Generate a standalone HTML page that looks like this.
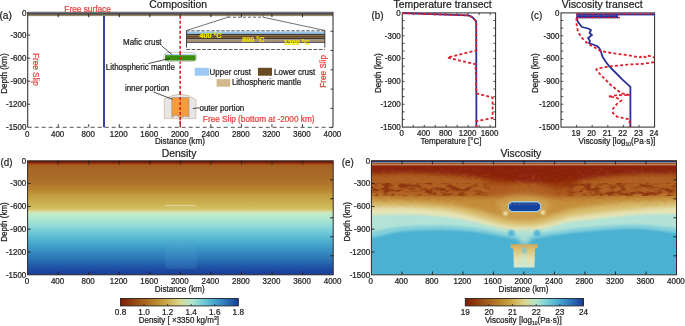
<!DOCTYPE html>
<html><head><meta charset="utf-8"><style>
html,body{margin:0;padding:0;background:#fff;}
svg{display:block;will-change:transform;}
text{font-family:"Liberation Sans", sans-serif;}
</style></head><body>
<svg width="685" height="326" viewBox="0 0 685 326">
<rect width="685" height="326" fill="#fff"/>
<defs>
<linearGradient id="roma" x1="0" y1="0" x2="1" y2="0">
 <stop offset="0" stop-color="#7e1d02"/>
 <stop offset="0.1" stop-color="#944010"/>
 <stop offset="0.2" stop-color="#a8621e"/>
 <stop offset="0.3" stop-color="#ba862e"/>
 <stop offset="0.4" stop-color="#ccac4c"/>
 <stop offset="0.5" stop-color="#dcd68e"/>
 <stop offset="0.6" stop-color="#b2e6cc"/>
 <stop offset="0.7" stop-color="#72cdd8"/>
 <stop offset="0.8" stop-color="#46a4cf"/>
 <stop offset="0.9" stop-color="#2a72b6"/>
 <stop offset="1" stop-color="#173c98"/>
</linearGradient>
<linearGradient id="dens" x1="0" y1="160.8" x2="0" y2="274.8" gradientUnits="userSpaceOnUse">
 <stop offset="0.0000" stop-color="#6e1604"/>
 <stop offset="0.0158" stop-color="#7a2006"/>
 <stop offset="0.0263" stop-color="#a04412"/>
 <stop offset="0.0386" stop-color="#a66020"/>
 <stop offset="0.0544" stop-color="#a66424"/>
 <stop offset="0.1684" stop-color="#ac6e28"/>
 <stop offset="0.2561" stop-color="#b8852f"/>
 <stop offset="0.3000" stop-color="#c29c3e"/>
 <stop offset="0.3877" stop-color="#ccb454"/>
 <stop offset="0.4272" stop-color="#d4c468"/>
 <stop offset="0.4430" stop-color="#d8dca0"/>
 <stop offset="0.4605" stop-color="#c6ecc4"/>
 <stop offset="0.5018" stop-color="#b2e8d0"/>
 <stop offset="0.5632" stop-color="#94dcd8"/>
 <stop offset="0.6246" stop-color="#70cad8"/>
 <stop offset="0.6947" stop-color="#52b2d0"/>
 <stop offset="0.7649" stop-color="#3c98c6"/>
 <stop offset="0.8526" stop-color="#2c78b8"/>
 <stop offset="0.9404" stop-color="#1e50a4"/>
 <stop offset="1.0000" stop-color="#1a3a98"/>
</linearGradient>
<linearGradient id="visc" x1="0" y1="160.8" x2="0" y2="274.8" gradientUnits="userSpaceOnUse">
 <stop offset="0" stop-color="#8a3008"/>
 <stop offset="0.2" stop-color="#8e3a0c"/>
 <stop offset="0.3" stop-color="#a45a1c"/>
 <stop offset="0.4" stop-color="#c08a36"/>
 <stop offset="0.47" stop-color="#d4b458"/>
 <stop offset="0.5" stop-color="#e0d490"/>
 <stop offset="0.56" stop-color="#d8e8c0"/>
 <stop offset="0.62" stop-color="#4cb2d2"/>
 <stop offset="1" stop-color="#4cb2d2"/>
</linearGradient>
</defs>
<rect x="27.7" y="11.8" width="305.30" height="0.8" fill="#443a38"/>
<rect x="27.7" y="12.6" width="305.30" height="1.5" fill="#48505c"/>
<rect x="27.7" y="14.1" width="305.30" height="1.3" fill="#5e5032"/>
<rect x="27.7" y="15.4" width="305.30" height="0.7" fill="#7a6a48"/>
<line x1="27.70" y1="12.00" x2="27.70" y2="127.30" stroke="#3e3636" stroke-width="1.1" />
<line x1="333.00" y1="12.00" x2="333.00" y2="127.30" stroke="#3e3636" stroke-width="1.1" />
<line x1="27.70" y1="127.30" x2="333.00" y2="127.30" stroke="#5a5050" stroke-width="1" stroke-dasharray="4,3"/>
<line x1="27.70" y1="35.06" x2="30.20" y2="35.06" stroke="#2a2626" stroke-width="0.9" />
<line x1="27.70" y1="58.12" x2="30.20" y2="58.12" stroke="#2a2626" stroke-width="0.9" />
<line x1="27.70" y1="81.18" x2="30.20" y2="81.18" stroke="#2a2626" stroke-width="0.9" />
<line x1="27.70" y1="104.24" x2="30.20" y2="104.24" stroke="#2a2626" stroke-width="0.9" />
<line x1="333.00" y1="31.27" x2="330.50" y2="31.27" stroke="#2a2626" stroke-width="0.9" />
<line x1="333.00" y1="50.54" x2="330.50" y2="50.54" stroke="#2a2626" stroke-width="0.9" />
<line x1="333.00" y1="69.81" x2="330.50" y2="69.81" stroke="#2a2626" stroke-width="0.9" />
<line x1="333.00" y1="89.08" x2="330.50" y2="89.08" stroke="#2a2626" stroke-width="0.9" />
<line x1="333.00" y1="108.35" x2="330.50" y2="108.35" stroke="#2a2626" stroke-width="0.9" />
<line x1="333.00" y1="127.62" x2="330.50" y2="127.62" stroke="#2a2626" stroke-width="0.9" />
<line x1="58.23" y1="14.00" x2="58.23" y2="17.20" stroke="#222" stroke-width="1.0" />
<line x1="58.23" y1="127.30" x2="58.23" y2="124.10" stroke="#444" stroke-width="1.0" />
<line x1="88.76" y1="14.00" x2="88.76" y2="17.20" stroke="#222" stroke-width="1.0" />
<line x1="88.76" y1="127.30" x2="88.76" y2="124.10" stroke="#444" stroke-width="1.0" />
<line x1="119.29" y1="14.00" x2="119.29" y2="17.20" stroke="#222" stroke-width="1.0" />
<line x1="119.29" y1="127.30" x2="119.29" y2="124.10" stroke="#444" stroke-width="1.0" />
<line x1="149.82" y1="14.00" x2="149.82" y2="17.20" stroke="#222" stroke-width="1.0" />
<line x1="149.82" y1="127.30" x2="149.82" y2="124.10" stroke="#444" stroke-width="1.0" />
<line x1="180.35" y1="14.00" x2="180.35" y2="17.20" stroke="#222" stroke-width="1.0" />
<line x1="180.35" y1="127.30" x2="180.35" y2="124.10" stroke="#444" stroke-width="1.0" />
<line x1="210.88" y1="14.00" x2="210.88" y2="17.20" stroke="#222" stroke-width="1.0" />
<line x1="210.88" y1="127.30" x2="210.88" y2="124.10" stroke="#444" stroke-width="1.0" />
<line x1="241.41" y1="14.00" x2="241.41" y2="17.20" stroke="#222" stroke-width="1.0" />
<line x1="241.41" y1="127.30" x2="241.41" y2="124.10" stroke="#444" stroke-width="1.0" />
<line x1="271.94" y1="14.00" x2="271.94" y2="17.20" stroke="#222" stroke-width="1.0" />
<line x1="271.94" y1="127.30" x2="271.94" y2="124.10" stroke="#444" stroke-width="1.0" />
<line x1="302.47" y1="14.00" x2="302.47" y2="17.20" stroke="#222" stroke-width="1.0" />
<line x1="302.47" y1="127.30" x2="302.47" y2="124.10" stroke="#444" stroke-width="1.0" />
<text transform="translate(26.40,37.86) scale(1,1.1)" font-size="8" text-anchor="end" fill="#222" stroke="#222" stroke-width="0.22" >-300</text>
<text transform="translate(26.40,60.92) scale(1,1.1)" font-size="8" text-anchor="end" fill="#222" stroke="#222" stroke-width="0.22" >-600</text>
<text transform="translate(26.40,83.98) scale(1,1.1)" font-size="8" text-anchor="end" fill="#222" stroke="#222" stroke-width="0.22" >-900</text>
<text transform="translate(26.40,107.04) scale(1,1.1)" font-size="8" text-anchor="end" fill="#222" stroke="#222" stroke-width="0.22" >-1200</text>
<text transform="translate(26.40,130.10) scale(1,1.1)" font-size="8" text-anchor="end" fill="#222" stroke="#222" stroke-width="0.22" >-1500</text>
<text transform="translate(26.40,16.10) scale(1,1.1)" font-size="8" text-anchor="end" fill="#222" stroke="#222" stroke-width="0.22" >0</text>
<text transform="translate(27.10,136.50) scale(1,1.1)" font-size="8" text-anchor="middle" fill="#222" stroke="#222" stroke-width="0.22" >0</text>
<text transform="translate(57.63,136.50) scale(1,1.1)" font-size="8" text-anchor="middle" fill="#222" stroke="#222" stroke-width="0.22" >400</text>
<text transform="translate(88.16,136.50) scale(1,1.1)" font-size="8" text-anchor="middle" fill="#222" stroke="#222" stroke-width="0.22" >800</text>
<text transform="translate(118.69,136.50) scale(1,1.1)" font-size="8" text-anchor="middle" fill="#222" stroke="#222" stroke-width="0.22" >1200</text>
<text transform="translate(149.22,136.50) scale(1,1.1)" font-size="8" text-anchor="middle" fill="#222" stroke="#222" stroke-width="0.22" >1600</text>
<text transform="translate(179.75,136.50) scale(1,1.1)" font-size="8" text-anchor="middle" fill="#222" stroke="#222" stroke-width="0.22" >2000</text>
<text transform="translate(210.28,136.50) scale(1,1.1)" font-size="8" text-anchor="middle" fill="#222" stroke="#222" stroke-width="0.22" >2400</text>
<text transform="translate(240.81,136.50) scale(1,1.1)" font-size="8" text-anchor="middle" fill="#222" stroke="#222" stroke-width="0.22" >2800</text>
<text transform="translate(271.34,136.50) scale(1,1.1)" font-size="8" text-anchor="middle" fill="#222" stroke="#222" stroke-width="0.22" >3200</text>
<text transform="translate(301.87,136.50) scale(1,1.1)" font-size="8" text-anchor="middle" fill="#222" stroke="#222" stroke-width="0.22" >3600</text>
<text transform="translate(332.40,136.50) scale(1,1.1)" font-size="8" text-anchor="middle" fill="#222" stroke="#222" stroke-width="0.22" >4000</text>
<text transform="translate(179.90,144.00) scale(1,1.1)" font-size="8.1" text-anchor="middle" fill="#222" stroke="#222" stroke-width="0.22" >Distance (km)</text>
<text transform="translate(178.20,8.10) scale(1,1.1)" font-size="10.4" text-anchor="middle" fill="#222" stroke="#222" stroke-width="0.22" >Composition</text>
<text transform="translate(-0.60,18.60) scale(1,1.1)" font-size="10.2" text-anchor="start" fill="#222" stroke="#222" stroke-width="0.22" >(a)</text>
<text transform="translate(6.8,73.6) rotate(-90) scale(1,1.1)" font-size="8.2" text-anchor="middle" fill="#222" stroke="#222" stroke-width="0.22">Depth (km)</text>
<text transform="translate(87.60,11.50) scale(1,1.1)" font-size="8.3" text-anchor="middle" fill="#e8403c" stroke="#e8403c" stroke-width="0.22" >Free surface</text>
<text transform="translate(33.0,69.3) rotate(90) scale(1,1.1)" font-size="8.2" text-anchor="middle" fill="#e8403c" stroke="#e8403c" stroke-width="0.22">Free Slip</text>
<text transform="translate(326.0,71.3) rotate(-90) scale(1,1.1)" font-size="8.2" text-anchor="middle" fill="#e8403c" stroke="#e8403c" stroke-width="0.22">Free Slip</text>
<text transform="translate(258.70,122.30) scale(1,1.1)" font-size="8.25" text-anchor="middle" fill="#e8403c" stroke="#e8403c" stroke-width="0.22" >Free Slip (bottom at -2000 km)</text>
<line x1="104.00" y1="16.00" x2="104.00" y2="127.30" stroke="#262b98" stroke-width="1.8" />
<line x1="180.20" y1="15.80" x2="180.20" y2="127.30" stroke="#dd1f2a" stroke-width="1.6" stroke-dasharray="3,2"/>
<rect x="163.6" y="52.4" width="33.2" height="9" rx="4.5" ry="4.5" fill="#fff" stroke="#b0b0b0" stroke-width="0.7"/>
<rect x="165" y="54.1" width="30.6" height="1.2" fill="#a8d0f0"/>
<rect x="165" y="55.2" width="30.6" height="5.4" fill="#3c8c0e"/>
<line x1="180.20" y1="52.00" x2="180.20" y2="62.00" stroke="#dd1f2a" stroke-width="1.6" stroke-dasharray="3,2"/>
<text transform="translate(142.30,45.20) scale(1,1.1)" font-size="8" text-anchor="middle" fill="#222" stroke="#222" stroke-width="0.22" >Mafic crust</text>
<text transform="translate(140.30,70.40) scale(1,1.1)" font-size="8" text-anchor="middle" fill="#222" stroke="#222" stroke-width="0.22" >Lithospheric mantle</text>
<line x1="161.30" y1="45.60" x2="172.00" y2="54.60" stroke="#222" stroke-width="0.8" />
<line x1="148.30" y1="63.60" x2="169.80" y2="58.40" stroke="#222" stroke-width="0.8" />
<rect x="186.3" y="31.6" width="138.7" height="2.2" fill="#96c8f0"/>
<rect x="186.3" y="33.8" width="138.7" height="1.6" fill="#3e3a38"/>
<rect x="186.3" y="35.4" width="138.7" height="2.4" fill="#6a4a1e"/>
<rect x="186.3" y="37.8" width="138.7" height="1.7" fill="#3e3a38"/>
<rect x="186.3" y="39.5" width="138.7" height="1.7" fill="#b09068"/>
<rect x="186.3" y="41.2" width="138.7" height="0.6" fill="#8a7a6a"/>
<rect x="186.3" y="41.8" width="138.7" height="1.0" fill="#3a3434"/>
<line x1="186.30" y1="30.80" x2="325.00" y2="30.80" stroke="#555" stroke-width="1" stroke-dasharray="3.4,1.6"/>
<line x1="186.30" y1="49.50" x2="325.00" y2="49.50" stroke="#555" stroke-width="1" stroke-dasharray="3.7,1.6"/>
<line x1="186.50" y1="30.50" x2="186.50" y2="47.50" stroke="#444" stroke-width="1.0" />
<line x1="324.80" y1="30.50" x2="324.80" y2="47.50" stroke="#444" stroke-width="1.0" />
<line x1="228.00" y1="17.20" x2="263.00" y2="17.20" stroke="#555" stroke-width="0.9" stroke-dasharray="3,2"/>
<line x1="228.00" y1="12.30" x2="228.00" y2="17.20" stroke="#555" stroke-width="0.8" />
<line x1="263.00" y1="12.30" x2="263.00" y2="17.20" stroke="#555" stroke-width="0.8" />
<line x1="228.00" y1="17.20" x2="186.50" y2="30.50" stroke="#333" stroke-width="0.7" />
<line x1="263.00" y1="17.20" x2="325.00" y2="30.50" stroke="#333" stroke-width="0.7" />
<text transform="translate(210.50,38.00) scale(1,1.1)" font-size="7.2" text-anchor="middle" fill="#f2e400" stroke="#f2e400" stroke-width="0.22" font-weight="bold">400 °C</text>
<text transform="translate(253.30,41.80) scale(1,1.1)" font-size="7.2" text-anchor="middle" fill="#f2e400" stroke="#f2e400" stroke-width="0.22" font-weight="bold">800 °C</text>
<text transform="translate(296.70,45.00) scale(1,1.1)" font-size="7.2" text-anchor="middle" fill="#f2e400" stroke="#f2e400" stroke-width="0.22" font-weight="bold">1200 °C</text>
<rect x="194.7" y="67.8" width="14.3" height="7.9" fill="#9ccaf4"/>
<text transform="translate(209.60,74.90) scale(1,1.1)" font-size="8" text-anchor="start" fill="#222" stroke="#222" stroke-width="0.22" >Upper crust</text>
<rect x="257.9" y="67.8" width="14.1" height="7.9" fill="#6a4a22"/>
<text transform="translate(274.00,74.90) scale(1,1.1)" font-size="8" text-anchor="start" fill="#222" stroke="#222" stroke-width="0.22" >Lower crust</text>
<rect x="216.6" y="79.1" width="13.6" height="7.6" fill="#d2b88c"/>
<text transform="translate(231.90,85.10) scale(1,1.1)" font-size="8" text-anchor="start" fill="#222" stroke="#222" stroke-width="0.22" >Lithospheric mantle</text>
<path d="M164.3,99.2 Q172,94.5 180.4,94.1 Q188.5,94.5 195.9,99.7 L195.9,118.6 L164.3,118.6 Z" fill="#e6e6e6" stroke="#c8a880" stroke-width="0.6"/>
<path d="M171.8,97.6 L189.0,97.6 L189.0,117.0 L185,116 L181,118 L176,115 L171.8,117.3 Z" fill="#f79c3c" stroke="#909090" stroke-width="0.6"/>
<line x1="180.20" y1="92.00" x2="180.20" y2="127.00" stroke="#dd1f2a" stroke-width="1.6" stroke-dasharray="3,2"/>
<text transform="translate(147.10,90.60) scale(1,1.1)" font-size="8" text-anchor="middle" fill="#222" stroke="#222" stroke-width="0.22" >inner portion</text>
<text transform="translate(221.90,110.60) scale(1,1.1)" font-size="8" text-anchor="middle" fill="#222" stroke="#222" stroke-width="0.22" >outer portion</text>
<line x1="153.30" y1="91.90" x2="172.50" y2="99.30" stroke="#222" stroke-width="0.8" />
<line x1="199.60" y1="107.70" x2="192.70" y2="108.60" stroke="#222" stroke-width="0.8" />
<line x1="402.30" y1="20.51" x2="404.60" y2="20.51" stroke="#2a2626" stroke-width="0.8" />
<line x1="495.60" y1="20.51" x2="493.30" y2="20.51" stroke="#2a2626" stroke-width="0.8" />
<line x1="402.30" y1="28.13" x2="404.60" y2="28.13" stroke="#2a2626" stroke-width="0.8" />
<line x1="495.60" y1="28.13" x2="493.30" y2="28.13" stroke="#2a2626" stroke-width="0.8" />
<line x1="402.30" y1="35.74" x2="404.60" y2="35.74" stroke="#2a2626" stroke-width="0.8" />
<line x1="495.60" y1="35.74" x2="493.30" y2="35.74" stroke="#2a2626" stroke-width="0.8" />
<line x1="402.30" y1="43.35" x2="404.60" y2="43.35" stroke="#2a2626" stroke-width="0.8" />
<line x1="495.60" y1="43.35" x2="493.30" y2="43.35" stroke="#2a2626" stroke-width="0.8" />
<line x1="402.30" y1="50.97" x2="404.60" y2="50.97" stroke="#2a2626" stroke-width="0.8" />
<line x1="495.60" y1="50.97" x2="493.30" y2="50.97" stroke="#2a2626" stroke-width="0.8" />
<line x1="402.30" y1="58.58" x2="404.60" y2="58.58" stroke="#2a2626" stroke-width="0.8" />
<line x1="495.60" y1="58.58" x2="493.30" y2="58.58" stroke="#2a2626" stroke-width="0.8" />
<line x1="402.30" y1="66.19" x2="404.60" y2="66.19" stroke="#2a2626" stroke-width="0.8" />
<line x1="495.60" y1="66.19" x2="493.30" y2="66.19" stroke="#2a2626" stroke-width="0.8" />
<line x1="402.30" y1="73.81" x2="404.60" y2="73.81" stroke="#2a2626" stroke-width="0.8" />
<line x1="495.60" y1="73.81" x2="493.30" y2="73.81" stroke="#2a2626" stroke-width="0.8" />
<line x1="402.30" y1="81.42" x2="404.60" y2="81.42" stroke="#2a2626" stroke-width="0.8" />
<line x1="495.60" y1="81.42" x2="493.30" y2="81.42" stroke="#2a2626" stroke-width="0.8" />
<line x1="402.30" y1="89.03" x2="404.60" y2="89.03" stroke="#2a2626" stroke-width="0.8" />
<line x1="495.60" y1="89.03" x2="493.30" y2="89.03" stroke="#2a2626" stroke-width="0.8" />
<line x1="402.30" y1="96.65" x2="404.60" y2="96.65" stroke="#2a2626" stroke-width="0.8" />
<line x1="495.60" y1="96.65" x2="493.30" y2="96.65" stroke="#2a2626" stroke-width="0.8" />
<line x1="402.30" y1="104.26" x2="404.60" y2="104.26" stroke="#2a2626" stroke-width="0.8" />
<line x1="495.60" y1="104.26" x2="493.30" y2="104.26" stroke="#2a2626" stroke-width="0.8" />
<line x1="402.30" y1="111.87" x2="404.60" y2="111.87" stroke="#2a2626" stroke-width="0.8" />
<line x1="495.60" y1="111.87" x2="493.30" y2="111.87" stroke="#2a2626" stroke-width="0.8" />
<line x1="402.30" y1="119.49" x2="404.60" y2="119.49" stroke="#2a2626" stroke-width="0.8" />
<line x1="495.60" y1="119.49" x2="493.30" y2="119.49" stroke="#2a2626" stroke-width="0.8" />
<line x1="413.28" y1="127.10" x2="413.28" y2="124.80" stroke="#2a2626" stroke-width="0.8" />
<line x1="413.28" y1="12.90" x2="413.28" y2="15.20" stroke="#2a2626" stroke-width="0.8" />
<line x1="424.25" y1="127.10" x2="424.25" y2="124.80" stroke="#2a2626" stroke-width="0.8" />
<line x1="424.25" y1="12.90" x2="424.25" y2="15.20" stroke="#2a2626" stroke-width="0.8" />
<line x1="435.23" y1="127.10" x2="435.23" y2="124.80" stroke="#2a2626" stroke-width="0.8" />
<line x1="435.23" y1="12.90" x2="435.23" y2="15.20" stroke="#2a2626" stroke-width="0.8" />
<line x1="446.21" y1="127.10" x2="446.21" y2="124.80" stroke="#2a2626" stroke-width="0.8" />
<line x1="446.21" y1="12.90" x2="446.21" y2="15.20" stroke="#2a2626" stroke-width="0.8" />
<line x1="457.18" y1="127.10" x2="457.18" y2="124.80" stroke="#2a2626" stroke-width="0.8" />
<line x1="457.18" y1="12.90" x2="457.18" y2="15.20" stroke="#2a2626" stroke-width="0.8" />
<line x1="468.16" y1="127.10" x2="468.16" y2="124.80" stroke="#2a2626" stroke-width="0.8" />
<line x1="468.16" y1="12.90" x2="468.16" y2="15.20" stroke="#2a2626" stroke-width="0.8" />
<line x1="479.14" y1="127.10" x2="479.14" y2="124.80" stroke="#2a2626" stroke-width="0.8" />
<line x1="479.14" y1="12.90" x2="479.14" y2="15.20" stroke="#2a2626" stroke-width="0.8" />
<line x1="490.11" y1="127.10" x2="490.11" y2="124.80" stroke="#2a2626" stroke-width="0.8" />
<line x1="490.11" y1="12.90" x2="490.11" y2="15.20" stroke="#2a2626" stroke-width="0.8" />
<rect x="402.30" y="12.90" width="93.30" height="114.20" fill="none" stroke="#2a2626" stroke-width="1.0"/>
<text transform="translate(400.80,15.70) scale(1,1.1)" font-size="8" text-anchor="end" fill="#222" stroke="#222" stroke-width="0.22" >0</text>
<text transform="translate(400.80,38.54) scale(1,1.1)" font-size="8" text-anchor="end" fill="#222" stroke="#222" stroke-width="0.22" >-300</text>
<text transform="translate(400.80,61.38) scale(1,1.1)" font-size="8" text-anchor="end" fill="#222" stroke="#222" stroke-width="0.22" >-600</text>
<text transform="translate(400.80,84.22) scale(1,1.1)" font-size="8" text-anchor="end" fill="#222" stroke="#222" stroke-width="0.22" >-900</text>
<text transform="translate(400.80,107.06) scale(1,1.1)" font-size="8" text-anchor="end" fill="#222" stroke="#222" stroke-width="0.22" >-1200</text>
<text transform="translate(400.80,129.90) scale(1,1.1)" font-size="8" text-anchor="end" fill="#222" stroke="#222" stroke-width="0.22" >-1500</text>
<text transform="translate(401.70,136.10) scale(1,1.1)" font-size="8" text-anchor="middle" fill="#222" stroke="#222" stroke-width="0.22" >0</text>
<text transform="translate(423.65,136.10) scale(1,1.1)" font-size="8" text-anchor="middle" fill="#222" stroke="#222" stroke-width="0.22" >400</text>
<text transform="translate(445.61,136.10) scale(1,1.1)" font-size="8" text-anchor="middle" fill="#222" stroke="#222" stroke-width="0.22" >800</text>
<text transform="translate(467.56,136.10) scale(1,1.1)" font-size="8" text-anchor="middle" fill="#222" stroke="#222" stroke-width="0.22" >1200</text>
<text transform="translate(489.51,136.10) scale(1,1.1)" font-size="8" text-anchor="middle" fill="#222" stroke="#222" stroke-width="0.22" >1600</text>
<text transform="translate(451.00,144.20) scale(1,1.1)" font-size="8.1" text-anchor="middle" fill="#222" stroke="#222" stroke-width="0.22" >Temperature [°C]</text>
<text transform="translate(442.60,8.10) scale(1,1.1)" font-size="10.4" text-anchor="middle" fill="#222" stroke="#222" stroke-width="0.22" >Temperature transect</text>
<text transform="translate(371.50,19.30) scale(1,1.1)" font-size="9.8" text-anchor="start" fill="#222" stroke="#222" stroke-width="0.22" >(b)</text>
<text transform="translate(381.3,73.2) rotate(-90) scale(1,1.1)" font-size="8" text-anchor="middle" fill="#222" stroke="#222" stroke-width="0.22">Depth (km)</text>
<path d="M402.3,13.2 L468.0,15.4 Q472.5,16.2 476.2,21.5 L476.4,127.1" fill="none" stroke="#2a2f9a" stroke-width="1.8"/>
<path d="M402.3,13.2 L468.0,15.4 Q472.5,16.2 476.2,21.5 L476.3,50.5 L447.5,57.5 L475.5,64.3 L476.4,93.3 L492.6,97.6 L492.6,118.0 L476.4,121.2 L476.4,127.1" fill="none" stroke="#dd1f2a" stroke-width="1.8" stroke-dasharray="3,2.2"/>
<line x1="561.00" y1="20.51" x2="563.30" y2="20.51" stroke="#2a2626" stroke-width="0.8" />
<line x1="561.00" y1="28.13" x2="563.30" y2="28.13" stroke="#2a2626" stroke-width="0.8" />
<line x1="561.00" y1="35.74" x2="563.30" y2="35.74" stroke="#2a2626" stroke-width="0.8" />
<line x1="561.00" y1="43.35" x2="563.30" y2="43.35" stroke="#2a2626" stroke-width="0.8" />
<line x1="561.00" y1="50.97" x2="563.30" y2="50.97" stroke="#2a2626" stroke-width="0.8" />
<line x1="561.00" y1="58.58" x2="563.30" y2="58.58" stroke="#2a2626" stroke-width="0.8" />
<line x1="561.00" y1="66.19" x2="563.30" y2="66.19" stroke="#2a2626" stroke-width="0.8" />
<line x1="561.00" y1="73.81" x2="563.30" y2="73.81" stroke="#2a2626" stroke-width="0.8" />
<line x1="561.00" y1="81.42" x2="563.30" y2="81.42" stroke="#2a2626" stroke-width="0.8" />
<line x1="561.00" y1="89.03" x2="563.30" y2="89.03" stroke="#2a2626" stroke-width="0.8" />
<line x1="561.00" y1="96.65" x2="563.30" y2="96.65" stroke="#2a2626" stroke-width="0.8" />
<line x1="561.00" y1="104.26" x2="563.30" y2="104.26" stroke="#2a2626" stroke-width="0.8" />
<line x1="561.00" y1="111.87" x2="563.30" y2="111.87" stroke="#2a2626" stroke-width="0.8" />
<line x1="561.00" y1="119.49" x2="563.30" y2="119.49" stroke="#2a2626" stroke-width="0.8" />
<line x1="576.60" y1="127.10" x2="576.60" y2="124.80" stroke="#2a2626" stroke-width="0.8" />
<line x1="592.20" y1="127.10" x2="592.20" y2="124.80" stroke="#2a2626" stroke-width="0.8" />
<line x1="607.80" y1="127.10" x2="607.80" y2="124.80" stroke="#2a2626" stroke-width="0.8" />
<line x1="623.40" y1="127.10" x2="623.40" y2="124.80" stroke="#2a2626" stroke-width="0.8" />
<line x1="639.00" y1="127.10" x2="639.00" y2="124.80" stroke="#2a2626" stroke-width="0.8" />
<rect x="561.00" y="12.90" width="93.60" height="114.20" fill="none" stroke="#2a2626" stroke-width="1.0"/>
<text transform="translate(559.50,15.70) scale(1,1.1)" font-size="8" text-anchor="end" fill="#222" stroke="#222" stroke-width="0.22" >0</text>
<text transform="translate(559.50,38.54) scale(1,1.1)" font-size="8" text-anchor="end" fill="#222" stroke="#222" stroke-width="0.22" >-300</text>
<text transform="translate(559.50,61.38) scale(1,1.1)" font-size="8" text-anchor="end" fill="#222" stroke="#222" stroke-width="0.22" >-600</text>
<text transform="translate(559.50,84.22) scale(1,1.1)" font-size="8" text-anchor="end" fill="#222" stroke="#222" stroke-width="0.22" >-900</text>
<text transform="translate(559.50,107.06) scale(1,1.1)" font-size="8" text-anchor="end" fill="#222" stroke="#222" stroke-width="0.22" >-1200</text>
<text transform="translate(559.50,129.90) scale(1,1.1)" font-size="8" text-anchor="end" fill="#222" stroke="#222" stroke-width="0.22" >-1500</text>
<text transform="translate(576.00,136.10) scale(1,1.1)" font-size="8" text-anchor="middle" fill="#222" stroke="#222" stroke-width="0.22" >19</text>
<text transform="translate(591.60,136.10) scale(1,1.1)" font-size="8" text-anchor="middle" fill="#222" stroke="#222" stroke-width="0.22" >20</text>
<text transform="translate(607.20,136.10) scale(1,1.1)" font-size="8" text-anchor="middle" fill="#222" stroke="#222" stroke-width="0.22" >21</text>
<text transform="translate(622.80,136.10) scale(1,1.1)" font-size="8" text-anchor="middle" fill="#222" stroke="#222" stroke-width="0.22" >22</text>
<text transform="translate(638.40,136.10) scale(1,1.1)" font-size="8" text-anchor="middle" fill="#222" stroke="#222" stroke-width="0.22" >23</text>
<text transform="translate(654.00,136.10) scale(1,1.1)" font-size="8" text-anchor="middle" fill="#222" stroke="#222" stroke-width="0.22" >24</text>
<text transform="translate(616.9,144.2) scale(1,1.1)" font-size="8.1" text-anchor="middle" fill="#222" stroke="#222" stroke-width="0.22">Viscosity [log<tspan font-size="5" dy="1.8">10</tspan><tspan dy="-1.8">(Pa·s)]</tspan></text>
<text transform="translate(602.20,8.10) scale(1,1.1)" font-size="10.4" text-anchor="middle" fill="#222" stroke="#222" stroke-width="0.22" >Viscosity transect</text>
<text transform="translate(530.80,19.30) scale(1,1.1)" font-size="9.8" text-anchor="start" fill="#222" stroke="#222" stroke-width="0.22" >(c)</text>
<text transform="translate(538.2,73.2) rotate(-90) scale(1,1.1)" font-size="8" text-anchor="middle" fill="#222" stroke="#222" stroke-width="0.22">Depth (km)</text>
<rect x="576.2" y="13.4" width="78.4" height="2.0" fill="#2a2f9a"/>
<rect x="576.2" y="15.2" width="42" height="3.1" fill="#2a2f9a"/>
<line x1="576.20" y1="13.90" x2="654.60" y2="13.90" stroke="#dd1f2a" stroke-width="1.3" stroke-dasharray="3,2.2"/>
<line x1="576.20" y1="17.60" x2="620.00" y2="17.60" stroke="#dd1f2a" stroke-width="1.4" stroke-dasharray="3,2.2"/>
<path d="M576.5,17.5 L578,22 L582,27 L588,28.5 L591,30 L589.5,33 L592,35 L588,38 L590,41 L589,43 L593,44.5 L597,46 L599.3,48.2 L600.9,51.5 L602.5,56.8 L605.8,61.7 L609,66 L622.2,79.3 L630.4,86.8 L630.4,127.1" fill="none" stroke="#2a2f9a" stroke-width="1.8" stroke-linejoin="round"/>
<path d="M576.5,18 L576.5,24 L578,32 L582,38 L587,43 L594,47 L600.4,50.9 L611,53 L627.3,55.2 L640.2,57.4 L642.3,55.8 L646.6,57.7 L648.8,55.8 L654.1,57.4 M654.1,62.2 L643.4,63.8 L627.3,64.6 L609,66.5 L597.2,68.6 L596.3,69.5 L599.4,73.5 L610.8,85 L621.3,93.3 L629.6,95 L617,95.2 L608.8,96.5 L616,97.5 L621.3,100.6 L617,103.8 L612.9,109 L612.9,113 L617,116.7 L629.6,119.4 L629.7,127.1" fill="none" stroke="#dd1f2a" stroke-width="1.8" stroke-dasharray="3,2.2"/>
<rect x="27.6" y="160.8" width="305.60" height="114.00" fill="url(#dens)"/>
<rect x="164.7" y="204.9" width="30.8" height="0.8" fill="#eeeacc" opacity="0.8"/>
<rect x="164.7" y="205.7" width="30.8" height="5" fill="#d8c878" opacity="0.25"/>
<path d="M165.2,245.4 L180.7,240.5 L196.7,245.4 L196.7,268.7 L165.2,268.7 Z" fill="#60b0d8" opacity="0.16"/>
<rect x="27.60" y="160.80" width="305.60" height="114.00" fill="none" stroke="#302828" stroke-width="1.0"/>
<line x1="27.60" y1="183.60" x2="30.60" y2="183.60" stroke="#222" stroke-width="1.0" />
<line x1="27.60" y1="206.40" x2="30.60" y2="206.40" stroke="#222" stroke-width="1.0" />
<line x1="27.60" y1="229.20" x2="30.60" y2="229.20" stroke="#222" stroke-width="1.0" />
<line x1="27.60" y1="252.00" x2="30.60" y2="252.00" stroke="#222" stroke-width="1.0" />
<line x1="333.20" y1="179.80" x2="330.20" y2="179.80" stroke="#222" stroke-width="1.0" />
<line x1="333.20" y1="198.80" x2="330.20" y2="198.80" stroke="#222" stroke-width="1.0" />
<line x1="333.20" y1="217.80" x2="330.20" y2="217.80" stroke="#222" stroke-width="1.0" />
<line x1="333.20" y1="236.80" x2="330.20" y2="236.80" stroke="#222" stroke-width="1.0" />
<line x1="333.20" y1="255.80" x2="330.20" y2="255.80" stroke="#222" stroke-width="1.0" />
<line x1="58.16" y1="274.80" x2="58.16" y2="271.50" stroke="#222" stroke-width="1.0" />
<line x1="58.16" y1="160.80" x2="58.16" y2="164.30" stroke="#222" stroke-width="1.0" />
<line x1="88.72" y1="274.80" x2="88.72" y2="271.50" stroke="#222" stroke-width="1.0" />
<line x1="88.72" y1="160.80" x2="88.72" y2="164.30" stroke="#222" stroke-width="1.0" />
<line x1="119.28" y1="274.80" x2="119.28" y2="271.50" stroke="#222" stroke-width="1.0" />
<line x1="119.28" y1="160.80" x2="119.28" y2="164.30" stroke="#222" stroke-width="1.0" />
<line x1="149.84" y1="274.80" x2="149.84" y2="271.50" stroke="#222" stroke-width="1.0" />
<line x1="149.84" y1="160.80" x2="149.84" y2="164.30" stroke="#222" stroke-width="1.0" />
<line x1="180.40" y1="274.80" x2="180.40" y2="271.50" stroke="#222" stroke-width="1.0" />
<line x1="180.40" y1="160.80" x2="180.40" y2="164.30" stroke="#222" stroke-width="1.0" />
<line x1="210.96" y1="274.80" x2="210.96" y2="271.50" stroke="#222" stroke-width="1.0" />
<line x1="210.96" y1="160.80" x2="210.96" y2="164.30" stroke="#222" stroke-width="1.0" />
<line x1="241.52" y1="274.80" x2="241.52" y2="271.50" stroke="#222" stroke-width="1.0" />
<line x1="241.52" y1="160.80" x2="241.52" y2="164.30" stroke="#222" stroke-width="1.0" />
<line x1="272.08" y1="274.80" x2="272.08" y2="271.50" stroke="#222" stroke-width="1.0" />
<line x1="272.08" y1="160.80" x2="272.08" y2="164.30" stroke="#222" stroke-width="1.0" />
<line x1="302.64" y1="274.80" x2="302.64" y2="271.50" stroke="#222" stroke-width="1.0" />
<line x1="302.64" y1="160.80" x2="302.64" y2="164.30" stroke="#222" stroke-width="1.0" />
<text transform="translate(26.30,163.60) scale(1,1.1)" font-size="8" text-anchor="end" fill="#222" stroke="#222" stroke-width="0.22" >0</text>
<text transform="translate(26.30,186.40) scale(1,1.1)" font-size="8" text-anchor="end" fill="#222" stroke="#222" stroke-width="0.22" >-300</text>
<text transform="translate(26.30,209.20) scale(1,1.1)" font-size="8" text-anchor="end" fill="#222" stroke="#222" stroke-width="0.22" >-600</text>
<text transform="translate(26.30,232.00) scale(1,1.1)" font-size="8" text-anchor="end" fill="#222" stroke="#222" stroke-width="0.22" >-900</text>
<text transform="translate(26.30,254.80) scale(1,1.1)" font-size="8" text-anchor="end" fill="#222" stroke="#222" stroke-width="0.22" >-1200</text>
<text transform="translate(26.30,277.60) scale(1,1.1)" font-size="8" text-anchor="end" fill="#222" stroke="#222" stroke-width="0.22" >-1500</text>
<text transform="translate(27.00,284.00) scale(1,1.1)" font-size="8" text-anchor="middle" fill="#222" stroke="#222" stroke-width="0.22" >0</text>
<text transform="translate(57.56,284.00) scale(1,1.1)" font-size="8" text-anchor="middle" fill="#222" stroke="#222" stroke-width="0.22" >400</text>
<text transform="translate(88.12,284.00) scale(1,1.1)" font-size="8" text-anchor="middle" fill="#222" stroke="#222" stroke-width="0.22" >800</text>
<text transform="translate(118.68,284.00) scale(1,1.1)" font-size="8" text-anchor="middle" fill="#222" stroke="#222" stroke-width="0.22" >1200</text>
<text transform="translate(149.24,284.00) scale(1,1.1)" font-size="8" text-anchor="middle" fill="#222" stroke="#222" stroke-width="0.22" >1600</text>
<text transform="translate(179.80,284.00) scale(1,1.1)" font-size="8" text-anchor="middle" fill="#222" stroke="#222" stroke-width="0.22" >2000</text>
<text transform="translate(210.36,284.00) scale(1,1.1)" font-size="8" text-anchor="middle" fill="#222" stroke="#222" stroke-width="0.22" >2400</text>
<text transform="translate(240.92,284.00) scale(1,1.1)" font-size="8" text-anchor="middle" fill="#222" stroke="#222" stroke-width="0.22" >2800</text>
<text transform="translate(271.48,284.00) scale(1,1.1)" font-size="8" text-anchor="middle" fill="#222" stroke="#222" stroke-width="0.22" >3200</text>
<text transform="translate(302.04,284.00) scale(1,1.1)" font-size="8" text-anchor="middle" fill="#222" stroke="#222" stroke-width="0.22" >3600</text>
<text transform="translate(332.60,284.00) scale(1,1.1)" font-size="8" text-anchor="middle" fill="#222" stroke="#222" stroke-width="0.22" >4000</text>
<text transform="translate(179.70,292.00) scale(1,1.1)" font-size="8.1" text-anchor="middle" fill="#222" stroke="#222" stroke-width="0.22" >Distance (km)</text>
<text transform="translate(179.10,157.30) scale(1,1.1)" font-size="10.4" text-anchor="middle" fill="#222" stroke="#222" stroke-width="0.22" >Density</text>
<text transform="translate(0.50,165.50) scale(1,1.1)" font-size="9.8" text-anchor="start" fill="#222" stroke="#222" stroke-width="0.22" >(d)</text>
<text transform="translate(6.6,222.0) rotate(-90) scale(1,1.1)" font-size="8" text-anchor="middle" fill="#222" stroke="#222" stroke-width="0.22">Depth (km)</text>
<rect x="120.5" y="298.5" width="117.8" height="7.4" fill="url(#roma)" stroke="#222" stroke-width="0.9"/>
<line x1="144.06" y1="305.90" x2="144.06" y2="304.20" stroke="#222" stroke-width="0.9" />
<line x1="167.62" y1="305.90" x2="167.62" y2="304.20" stroke="#222" stroke-width="0.9" />
<line x1="191.18" y1="305.90" x2="191.18" y2="304.20" stroke="#222" stroke-width="0.9" />
<line x1="214.74" y1="305.90" x2="214.74" y2="304.20" stroke="#222" stroke-width="0.9" />
<text transform="translate(120.50,315.20) scale(1,1.1)" font-size="8.2" text-anchor="middle" fill="#222" stroke="#222" stroke-width="0.22" >0.8</text>
<text transform="translate(144.06,315.20) scale(1,1.1)" font-size="8.2" text-anchor="middle" fill="#222" stroke="#222" stroke-width="0.22" >1.0</text>
<text transform="translate(167.62,315.20) scale(1,1.1)" font-size="8.2" text-anchor="middle" fill="#222" stroke="#222" stroke-width="0.22" >1.2</text>
<text transform="translate(191.18,315.20) scale(1,1.1)" font-size="8.2" text-anchor="middle" fill="#222" stroke="#222" stroke-width="0.22" >1.4</text>
<text transform="translate(214.74,315.20) scale(1,1.1)" font-size="8.2" text-anchor="middle" fill="#222" stroke="#222" stroke-width="0.22" >1.6</text>
<text transform="translate(238.30,315.20) scale(1,1.1)" font-size="8.2" text-anchor="middle" fill="#222" stroke="#222" stroke-width="0.22" >1.8</text>
<text transform="translate(178.8,323.3) scale(1,1.1)" font-size="8" text-anchor="middle" fill="#222" stroke="#222" stroke-width="0.22">Density [ ×3350 kg/m<tspan font-size="5" dy="-2.8">3</tspan><tspan dy="2.8">]</tspan></text>
<defs>
<clipPath id="clipE"><rect x="371.4" y="160.8" width="305.10" height="114.00"/></clipPath>
<filter id="bl2" x="-10%" y="-50%" width="120%" height="200%"><feGaussianBlur stdDeviation="2"/></filter>
<filter id="bl3" x="-10%" y="-50%" width="120%" height="200%"><feGaussianBlur stdDeviation="3"/></filter>
<filter id="bl1" x="-50%" y="-50%" width="200%" height="200%"><feGaussianBlur stdDeviation="1"/></filter>
<filter id="bl05" x="-20%" y="-50%" width="140%" height="200%"><feGaussianBlur stdDeviation="0.5"/></filter>
<filter id="blotch" x="0" y="0" width="100%" height="100%" color-interpolation-filters="sRGB">
 <feTurbulence type="fractalNoise" baseFrequency="0.12 0.25" numOctaves="2" seed="11" result="n"/>
 <feColorMatrix in="n" type="matrix" values="0 0 0 0 0.52  0 0 0 0 0.17  0 0 0 0 0.04  -4 0 0 0 2.3" result="c"/>
 <feGaussianBlur in="c" stdDeviation="0.6"/>
</filter>
<filter id="noiseE" x="0" y="0" width="100%" height="100%" color-interpolation-filters="sRGB">
 <feTurbulence type="fractalNoise" baseFrequency="0.22 0.3" numOctaves="2" seed="7" result="n"/>
 <feColorMatrix in="n" type="matrix" values="0 0 0 0 0.74  0 0 0 0 0.40  0 0 0 0 0.14  3.0 0 0 0 -1.35" />
</filter>
<filter id="noiseL" x="0" y="0" width="100%" height="100%">
 <feTurbulence type="fractalNoise" baseFrequency="0.25 0.35" numOctaves="2" seed="3" result="n"/>
 <feColorMatrix in="n" type="matrix" values="0 0 0 0 0.85  0 0 0 0 0.62  0 0 0 0 0.30  2.4 0 0 0 -1.35" />
</filter>
<linearGradient id="noiseMask" x1="0" y1="160.8" x2="0" y2="274.8" gradientUnits="userSpaceOnUse">
 <stop offset="0.03" stop-color="#fff" stop-opacity="0.1"/>
 <stop offset="0.12" stop-color="#fff" stop-opacity="0.25"/>
 <stop offset="0.2" stop-color="#fff" stop-opacity="0.7"/>
 <stop offset="0.3" stop-color="#fff" stop-opacity="0.6"/>
 <stop offset="0.42" stop-color="#fff" stop-opacity="0"/>
</linearGradient>
<linearGradient id="sidesG" x1="371.4" y1="0" x2="676.5" y2="0" gradientUnits="userSpaceOnUse">
 <stop offset="0" stop-color="#fff"/>
 <stop offset="0.323" stop-color="#fff"/>
 <stop offset="0.412" stop-color="#000"/>
 <stop offset="0.595" stop-color="#000"/>
 <stop offset="0.690" stop-color="#fff"/>
 <stop offset="1" stop-color="#fff"/>
</linearGradient>
<mask id="mSides"><rect x="371.4" y="160.8" width="305.10" height="114.00" fill="url(#sidesG)"/></mask>
<mask id="mUpper"><rect x="371.4" y="160.8" width="305.10" height="114.00" fill="url(#noiseMask)"/></mask>
</defs>
<g clip-path="url(#clipE)">
<rect x="371.4" y="160.8" width="305.10" height="114.00" fill="#4bb1d2"/>
<path d="M365.4,154.8 L682.5,154.8 L682.5,233.5 L677.1,233.1 L671.8,232.4 L666.4,231.7 L661.0,230.9 L655.6,230.2 L650.3,229.4 L644.9,228.9 L639.5,228.6 L634.1,228.5 L628.8,228.6 L623.4,228.8 L618.0,229.1 L612.6,229.4 L607.3,229.7 L601.9,230.0 L596.5,230.4 L591.1,230.9 L585.8,231.4 L580.4,232.0 L575.0,232.5 L569.6,233.1 L564.3,233.7 L558.9,234.4 L553.5,235.2 L548.1,236.0 L542.8,237.0 L537.4,238.1 L532.0,239.0 L526.6,239.4 L521.3,239.4 L515.9,238.9 L510.5,238.1 L505.1,237.0 L499.8,235.9 L494.4,234.9 L489.0,234.0 L483.6,233.1 L478.3,232.3 L472.9,231.6 L467.5,231.1 L462.1,230.7 L456.8,230.3 L451.4,230.1 L446.0,229.9 L440.6,229.8 L435.3,229.8 L429.9,229.9 L424.5,230.1 L419.1,230.3 L413.8,230.5 L408.4,230.8 L403.0,231.3 L397.6,232.0 L392.3,233.0 L386.9,234.2 L381.5,235.5 L376.1,236.7 L370.8,237.6 L365.4,238.3 Z" fill="#84cfda" filter="url(#bl1)"/>
<path d="M365.4,154.8 L682.5,154.8 L682.5,228.5 L677.1,228.1 L671.8,227.6 L666.4,226.9 L661.0,226.3 L655.6,225.7 L650.3,225.2 L644.9,224.7 L639.5,224.5 L634.1,224.5 L628.8,224.6 L623.4,224.8 L618.0,225.1 L612.6,225.4 L607.3,225.7 L601.9,226.0 L596.5,226.4 L591.1,226.9 L585.8,227.4 L580.4,228.0 L575.0,228.5 L569.6,229.1 L564.3,229.7 L558.9,230.4 L553.5,231.2 L548.1,232.0 L542.8,233.0 L537.4,234.1 L532.0,235.0 L526.6,235.4 L521.3,235.4 L515.9,234.9 L510.5,234.1 L505.1,233.0 L499.8,231.9 L494.4,230.9 L489.0,230.0 L483.6,229.1 L478.3,228.3 L472.9,227.6 L467.5,227.0 L462.1,226.5 L456.8,226.1 L451.4,225.8 L446.0,225.5 L440.6,225.3 L435.3,225.2 L429.9,225.3 L424.5,225.4 L419.1,225.5 L413.8,225.7 L408.4,225.9 L403.0,226.3 L397.6,226.9 L392.3,227.7 L386.9,228.7 L381.5,229.8 L376.1,230.9 L370.8,231.7 L365.4,232.4 Z" fill="#b2e3d6" filter="url(#bl1)"/>
<path d="M365.4,154.8 L682.5,154.8 L682.5,214.0 L677.1,214.0 L671.8,214.0 L666.4,214.0 L661.0,214.0 L655.6,214.0 L650.3,214.0 L644.9,214.2 L639.5,214.4 L634.1,214.8 L628.8,215.3 L623.4,216.0 L618.0,216.6 L612.6,217.2 L607.3,217.8 L601.9,218.3 L596.5,218.8 L591.1,219.4 L585.8,219.9 L580.4,220.5 L575.0,221.0 L569.6,221.9 L564.3,223.0 L558.9,224.4 L553.5,225.9 L548.1,227.4 L542.8,228.7 L537.4,229.8 L532.0,230.6 L526.6,230.9 L521.3,230.9 L515.9,230.6 L510.5,229.8 L505.1,228.8 L499.8,227.7 L494.4,226.4 L489.0,225.2 L483.6,223.9 L478.3,222.7 L472.9,221.6 L467.5,220.5 L462.1,219.4 L456.8,218.5 L451.4,217.6 L446.0,216.9 L440.6,216.3 L435.3,215.9 L429.9,215.5 L424.5,215.1 L419.1,214.7 L413.8,214.5 L408.4,214.3 L403.0,214.3 L397.6,214.3 L392.3,214.5 L386.9,214.6 L381.5,214.7 L376.1,215.0 L370.8,215.3 L365.4,215.5 Z" fill="#e6e4b6" filter="url(#bl1)"/>
<path d="M365.4,154.8 L682.5,154.8 L682.5,206.1 L677.1,206.2 L671.8,206.5 L666.4,206.8 L661.0,207.2 L655.6,207.7 L650.3,208.1 L644.9,208.6 L639.5,209.0 L634.1,209.4 L628.8,209.9 L623.4,210.3 L618.0,210.8 L612.6,211.4 L607.3,212.0 L601.9,212.6 L596.5,213.2 L591.1,213.9 L585.8,214.5 L580.4,215.2 L575.0,215.8 L569.6,216.8 L564.3,218.2 L558.9,219.8 L553.5,221.4 L548.1,223.0 L542.8,224.3 L537.4,225.3 L532.0,225.9 L526.6,226.1 L521.3,226.1 L515.9,225.9 L510.5,225.3 L505.1,224.4 L499.8,223.3 L494.4,221.9 L489.0,220.5 L483.6,218.9 L478.3,217.3 L472.9,215.9 L467.5,214.5 L462.1,213.1 L456.8,211.9 L451.4,210.8 L446.0,210.0 L440.6,209.3 L435.3,208.9 L429.9,208.5 L424.5,208.1 L419.1,207.7 L413.8,207.4 L408.4,207.2 L403.0,207.1 L397.6,207.0 L392.3,207.0 L386.9,207.0 L381.5,207.0 L376.1,207.2 L370.8,207.4 L365.4,207.6 Z" fill="#d8bc6c" filter="url(#bl2)"/>
<path d="M365.4,154.8 L682.5,154.8 L682.5,200.0 L677.1,200.1 L671.8,200.3 L666.4,200.5 L661.0,200.7 L655.6,201.0 L650.3,201.3 L644.9,201.5 L639.5,201.8 L634.1,202.1 L628.8,202.3 L623.4,202.6 L618.0,203.0 L612.6,203.5 L607.3,204.1 L601.9,204.8 L596.5,205.6 L591.1,206.3 L585.8,207.1 L580.4,207.8 L575.0,208.6 L569.6,209.7 L564.3,211.1 L558.9,212.8 L553.5,214.5 L548.1,216.2 L542.8,217.6 L537.4,218.8 L532.0,219.5 L526.6,219.8 L521.3,219.8 L515.9,219.5 L510.5,218.7 L505.1,217.7 L499.8,216.4 L494.4,215.0 L489.0,213.5 L483.6,212.0 L478.3,210.5 L472.9,209.2 L467.5,208.0 L462.1,206.8 L456.8,205.7 L451.4,204.8 L446.0,204.1 L440.6,203.6 L435.3,203.3 L429.9,203.0 L424.5,202.7 L419.1,202.5 L413.8,202.2 L408.4,202.0 L403.0,201.8 L397.6,201.7 L392.3,201.5 L386.9,201.4 L381.5,201.3 L376.1,201.2 L370.8,201.1 L365.4,201.0 Z" fill="#c48e3a" filter="url(#bl2)"/>
<path d="M365.4,154.8 L682.5,154.8 L682.5,195.0 L677.1,195.0 L671.8,195.1 L666.4,195.2 L661.0,195.2 L655.6,195.3 L650.3,195.4 L644.9,195.5 L639.5,195.6 L634.1,195.7 L628.8,195.8 L623.4,195.9 L618.0,196.0 L612.6,196.1 L607.3,196.3 L601.9,196.5 L596.5,196.7 L591.1,197.0 L585.8,197.2 L580.4,197.4 L575.0,197.6 L569.6,197.7 L564.3,197.7 L558.9,197.6 L553.5,197.4 L548.1,197.2 L542.8,196.9 L537.4,196.7 L532.0,196.4 L526.6,196.3 L521.3,196.2 L515.9,196.2 L510.5,196.3 L505.1,196.5 L499.8,196.6 L494.4,196.8 L489.0,196.9 L483.6,196.9 L478.3,197.0 L472.9,197.0 L467.5,197.0 L462.1,197.0 L456.8,197.0 L451.4,196.9 L446.0,196.9 L440.6,196.8 L435.3,196.6 L429.9,196.5 L424.5,196.4 L419.1,196.2 L413.8,196.1 L408.4,196.0 L403.0,195.8 L397.6,195.7 L392.3,195.5 L386.9,195.4 L381.5,195.3 L376.1,195.2 L370.8,195.1 L365.4,195.0 Z" fill="#ae5e24" filter="url(#bl2)"/>
<path d="M365.4,154.8 L682.5,154.8 L682.5,174.0 L677.1,174.0 L671.8,174.0 L666.4,174.0 L661.0,174.0 L655.6,174.0 L650.3,174.0 L644.9,174.1 L639.5,174.3 L634.1,174.5 L628.8,174.8 L623.4,175.2 L618.0,175.6 L612.6,176.1 L607.3,176.5 L601.9,177.1 L596.5,177.7 L591.1,178.5 L585.8,179.4 L580.4,180.3 L575.0,181.0 L569.6,181.6 L564.3,182.1 L558.9,182.5 L553.5,182.7 L548.1,182.8 L542.8,182.9 L537.4,183.0 L532.0,183.0 L526.6,182.8 L521.3,182.6 L515.9,182.3 L510.5,181.9 L505.1,181.4 L499.8,180.8 L494.4,180.1 L489.0,179.4 L483.6,178.6 L478.3,178.0 L472.9,177.3 L467.5,176.8 L462.1,176.2 L456.8,175.7 L451.4,175.3 L446.0,174.9 L440.6,174.5 L435.3,174.3 L429.9,174.0 L424.5,173.7 L419.1,173.5 L413.8,173.3 L408.4,173.2 L403.0,173.2 L397.6,173.3 L392.3,173.5 L386.9,173.6 L381.5,173.7 L376.1,173.8 L370.8,173.9 L365.4,174.0 Z" fill="#8a2408" filter="url(#bl2)"/>
<rect x="371.4" y="160.8" width="305.10" height="114.00" filter="url(#noiseE)" mask="url(#mUpper)" opacity="0.8"/>
<ellipse cx="560" cy="180" rx="18" ry="9" fill="#8a2206" filter="url(#bl3)" opacity="0.6"/>
<ellipse cx="500" cy="178" rx="16" ry="7" fill="#8a2206" filter="url(#bl3)" opacity="0.45"/>
<rect x="371.4" y="183" width="305.10" height="13" filter="url(#blotch)" mask="url(#mSides)" opacity="0.75"/>
<ellipse cx="524.5" cy="206" rx="27" ry="11" fill="#d8b464" filter="url(#bl3)" opacity="0.55"/>
<circle cx="505.5" cy="213.5" r="2.2" fill="#f2eab8" filter="url(#bl1)"/>
<circle cx="543" cy="212.5" r="2.2" fill="#f2eab8" filter="url(#bl1)"/>
<path d="M511,201.3 L538,201.3 L541,204.2 L541,209 L538,212 L511,212 L508,209 L508,204.2 Z" fill="#a4d2e6" filter="url(#bl05)"/>
<path d="M511.5,202.5 L537.5,202.5 L540,204.8 L540,208.5 L537.5,211 L511.5,211 L509,208.5 L509,204.8 Z" fill="#1444a2"/>
<line x1="510.5" y1="204.3" x2="538" y2="204.3" stroke="#c07058" stroke-width="0.7" stroke-dasharray="1.5,1,0.7,1"/>
<path d="M518,230 L531,230 L529,244 L520,244 Z" fill="#b4e0d2" filter="url(#bl2)" opacity="0.8"/>
<circle cx="511.3" cy="233.2" r="3.3" fill="#54b4d6" filter="url(#bl1)"/>
<circle cx="537.0" cy="233.2" r="3.3" fill="#54b4d6" filter="url(#bl1)"/>
<linearGradient id="blockG" x1="0" y1="243.5" x2="0" y2="268" gradientUnits="userSpaceOnUse"><stop offset="0" stop-color="#d4a656"/><stop offset="0.3" stop-color="#dcc47c"/><stop offset="0.65" stop-color="#e6e2b2"/><stop offset="1" stop-color="#cfe8d4"/></linearGradient>
<path d="M510.7,244.2 L537.6,244.2 L537.6,247.5 L535,249 L534.5,267.5 L513.8,267.5 L513.3,249 L510.7,247.5 Z" fill="url(#blockG)" filter="url(#bl05)"/>
<ellipse cx="524.2" cy="250.5" rx="1.8" ry="3.5" fill="#70c4da" filter="url(#bl1)"/>
<rect x="521" y="254" width="6" height="12" fill="#c8e6d0" filter="url(#bl1)" opacity="0.7"/>
<rect x="371.4" y="160.8" width="305.10" height="1.5" fill="#1e3a8c"/>
<rect x="371.4" y="162.3" width="305.10" height="0.9" fill="#88b4cc"/>
<rect x="371.4" y="163.20000000000002" width="305.10" height="1.1" fill="#a85a28"/>
<rect x="371.4" y="164.3" width="305.10" height="1.0" fill="#e4bc7c" opacity="0.85"/>
</g>
<rect x="371.40" y="160.80" width="305.10" height="114.00" fill="none" stroke="#302828" stroke-width="1.0"/>
<line x1="371.40" y1="183.60" x2="374.40" y2="183.60" stroke="#222" stroke-width="1.0" />
<line x1="371.40" y1="206.40" x2="374.40" y2="206.40" stroke="#222" stroke-width="1.0" />
<line x1="371.40" y1="229.20" x2="374.40" y2="229.20" stroke="#222" stroke-width="1.0" />
<line x1="371.40" y1="252.00" x2="374.40" y2="252.00" stroke="#222" stroke-width="1.0" />
<line x1="676.50" y1="179.80" x2="673.50" y2="179.80" stroke="#222" stroke-width="1.0" />
<line x1="676.50" y1="198.80" x2="673.50" y2="198.80" stroke="#222" stroke-width="1.0" />
<line x1="676.50" y1="217.80" x2="673.50" y2="217.80" stroke="#222" stroke-width="1.0" />
<line x1="676.50" y1="236.80" x2="673.50" y2="236.80" stroke="#222" stroke-width="1.0" />
<line x1="676.50" y1="255.80" x2="673.50" y2="255.80" stroke="#222" stroke-width="1.0" />
<line x1="401.91" y1="274.80" x2="401.91" y2="271.50" stroke="#222" stroke-width="1.0" />
<line x1="401.91" y1="160.80" x2="401.91" y2="164.30" stroke="#222" stroke-width="1.0" />
<line x1="432.42" y1="274.80" x2="432.42" y2="271.50" stroke="#222" stroke-width="1.0" />
<line x1="432.42" y1="160.80" x2="432.42" y2="164.30" stroke="#222" stroke-width="1.0" />
<line x1="462.93" y1="274.80" x2="462.93" y2="271.50" stroke="#222" stroke-width="1.0" />
<line x1="462.93" y1="160.80" x2="462.93" y2="164.30" stroke="#222" stroke-width="1.0" />
<line x1="493.44" y1="274.80" x2="493.44" y2="271.50" stroke="#222" stroke-width="1.0" />
<line x1="493.44" y1="160.80" x2="493.44" y2="164.30" stroke="#222" stroke-width="1.0" />
<line x1="523.95" y1="274.80" x2="523.95" y2="271.50" stroke="#222" stroke-width="1.0" />
<line x1="523.95" y1="160.80" x2="523.95" y2="164.30" stroke="#222" stroke-width="1.0" />
<line x1="554.46" y1="274.80" x2="554.46" y2="271.50" stroke="#222" stroke-width="1.0" />
<line x1="554.46" y1="160.80" x2="554.46" y2="164.30" stroke="#222" stroke-width="1.0" />
<line x1="584.97" y1="274.80" x2="584.97" y2="271.50" stroke="#222" stroke-width="1.0" />
<line x1="584.97" y1="160.80" x2="584.97" y2="164.30" stroke="#222" stroke-width="1.0" />
<line x1="615.48" y1="274.80" x2="615.48" y2="271.50" stroke="#222" stroke-width="1.0" />
<line x1="615.48" y1="160.80" x2="615.48" y2="164.30" stroke="#222" stroke-width="1.0" />
<line x1="645.99" y1="274.80" x2="645.99" y2="271.50" stroke="#222" stroke-width="1.0" />
<line x1="645.99" y1="160.80" x2="645.99" y2="164.30" stroke="#222" stroke-width="1.0" />
<text transform="translate(370.10,163.60) scale(1,1.1)" font-size="8" text-anchor="end" fill="#222" stroke="#222" stroke-width="0.22" >0</text>
<text transform="translate(370.10,186.40) scale(1,1.1)" font-size="8" text-anchor="end" fill="#222" stroke="#222" stroke-width="0.22" >-300</text>
<text transform="translate(370.10,209.20) scale(1,1.1)" font-size="8" text-anchor="end" fill="#222" stroke="#222" stroke-width="0.22" >-600</text>
<text transform="translate(370.10,232.00) scale(1,1.1)" font-size="8" text-anchor="end" fill="#222" stroke="#222" stroke-width="0.22" >-900</text>
<text transform="translate(370.10,254.80) scale(1,1.1)" font-size="8" text-anchor="end" fill="#222" stroke="#222" stroke-width="0.22" >-1200</text>
<text transform="translate(370.10,277.60) scale(1,1.1)" font-size="8" text-anchor="end" fill="#222" stroke="#222" stroke-width="0.22" >-1500</text>
<text transform="translate(370.80,284.00) scale(1,1.1)" font-size="8" text-anchor="middle" fill="#222" stroke="#222" stroke-width="0.22" >0</text>
<text transform="translate(401.31,284.00) scale(1,1.1)" font-size="8" text-anchor="middle" fill="#222" stroke="#222" stroke-width="0.22" >400</text>
<text transform="translate(431.82,284.00) scale(1,1.1)" font-size="8" text-anchor="middle" fill="#222" stroke="#222" stroke-width="0.22" >800</text>
<text transform="translate(462.33,284.00) scale(1,1.1)" font-size="8" text-anchor="middle" fill="#222" stroke="#222" stroke-width="0.22" >1200</text>
<text transform="translate(492.84,284.00) scale(1,1.1)" font-size="8" text-anchor="middle" fill="#222" stroke="#222" stroke-width="0.22" >1600</text>
<text transform="translate(523.35,284.00) scale(1,1.1)" font-size="8" text-anchor="middle" fill="#222" stroke="#222" stroke-width="0.22" >2000</text>
<text transform="translate(553.86,284.00) scale(1,1.1)" font-size="8" text-anchor="middle" fill="#222" stroke="#222" stroke-width="0.22" >2400</text>
<text transform="translate(584.37,284.00) scale(1,1.1)" font-size="8" text-anchor="middle" fill="#222" stroke="#222" stroke-width="0.22" >2800</text>
<text transform="translate(614.88,284.00) scale(1,1.1)" font-size="8" text-anchor="middle" fill="#222" stroke="#222" stroke-width="0.22" >3200</text>
<text transform="translate(645.39,284.00) scale(1,1.1)" font-size="8" text-anchor="middle" fill="#222" stroke="#222" stroke-width="0.22" >3600</text>
<text transform="translate(675.90,284.00) scale(1,1.1)" font-size="8" text-anchor="middle" fill="#222" stroke="#222" stroke-width="0.22" >4000</text>
<text transform="translate(523.50,292.00) scale(1,1.1)" font-size="8.1" text-anchor="middle" fill="#222" stroke="#222" stroke-width="0.22" >Distance (km)</text>
<text transform="translate(520.90,157.30) scale(1,1.1)" font-size="10.4" text-anchor="middle" fill="#222" stroke="#222" stroke-width="0.22" >Viscosity</text>
<text transform="translate(341.80,165.50) scale(1,1.1)" font-size="9.8" text-anchor="start" fill="#222" stroke="#222" stroke-width="0.22" >(e)</text>
<text transform="translate(350.2,221.8) rotate(-90) scale(1,1.1)" font-size="8" text-anchor="middle" fill="#222" stroke="#222" stroke-width="0.22">Depth (km)</text>
<rect x="465.3" y="298.5" width="118.2" height="7.4" fill="url(#roma)" stroke="#222" stroke-width="0.9"/>
<line x1="488.94" y1="305.90" x2="488.94" y2="304.20" stroke="#222" stroke-width="0.9" />
<line x1="512.58" y1="305.90" x2="512.58" y2="304.20" stroke="#222" stroke-width="0.9" />
<line x1="536.22" y1="305.90" x2="536.22" y2="304.20" stroke="#222" stroke-width="0.9" />
<line x1="559.86" y1="305.90" x2="559.86" y2="304.20" stroke="#222" stroke-width="0.9" />
<text transform="translate(465.30,315.20) scale(1,1.1)" font-size="8.2" text-anchor="middle" fill="#222" stroke="#222" stroke-width="0.22" >19</text>
<text transform="translate(488.94,315.20) scale(1,1.1)" font-size="8.2" text-anchor="middle" fill="#222" stroke="#222" stroke-width="0.22" >20</text>
<text transform="translate(512.58,315.20) scale(1,1.1)" font-size="8.2" text-anchor="middle" fill="#222" stroke="#222" stroke-width="0.22" >21</text>
<text transform="translate(536.22,315.20) scale(1,1.1)" font-size="8.2" text-anchor="middle" fill="#222" stroke="#222" stroke-width="0.22" >22</text>
<text transform="translate(559.86,315.20) scale(1,1.1)" font-size="8.2" text-anchor="middle" fill="#222" stroke="#222" stroke-width="0.22" >23</text>
<text transform="translate(583.50,315.20) scale(1,1.1)" font-size="8.2" text-anchor="middle" fill="#222" stroke="#222" stroke-width="0.22" >24</text>
<text transform="translate(523.3,323.3) scale(1,1.1)" font-size="8.1" text-anchor="middle" fill="#222" stroke="#222" stroke-width="0.22">Viscosity [log<tspan font-size="5" dy="1.8">10</tspan><tspan dy="-1.8">(Pa·s)]</tspan></text>
</svg>
</body></html>
